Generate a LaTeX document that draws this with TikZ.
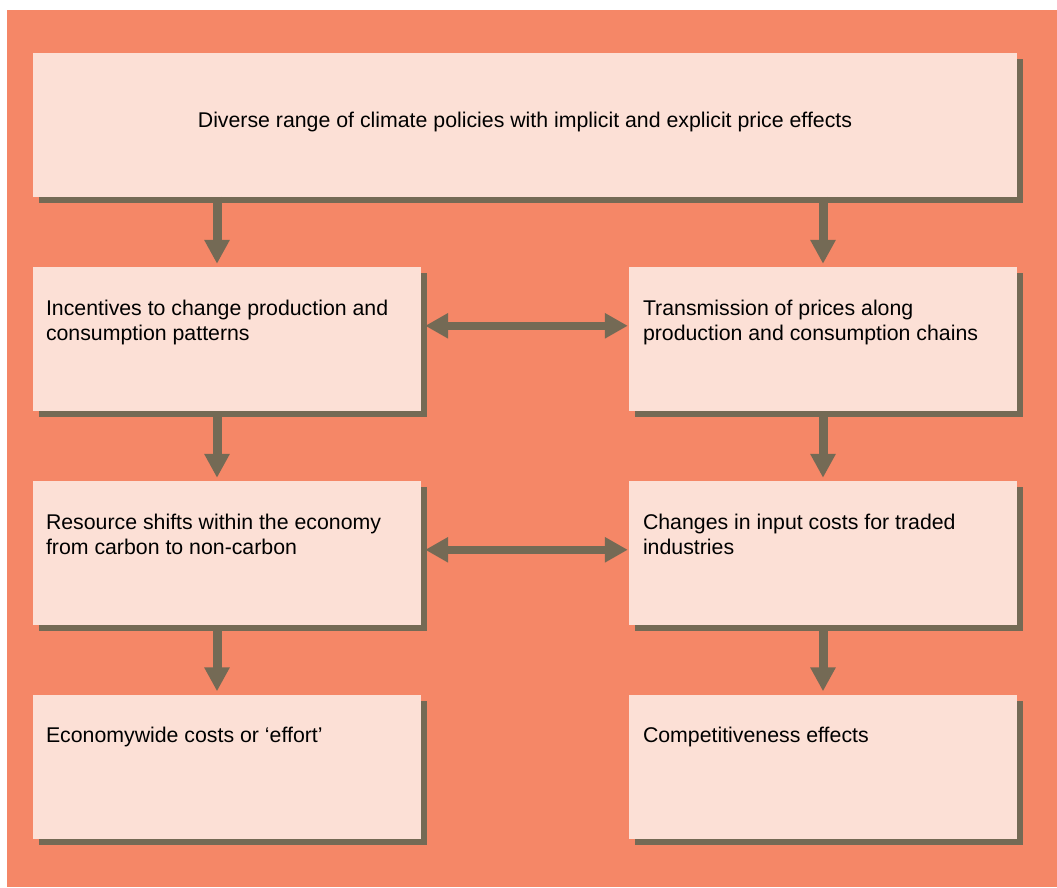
\documentclass[tikz,border=0pt]{standalone}
\usepackage{fontspec}
\setmainfont{Liberation Sans}
\usetikzlibrary{arrows.meta,shadows,calc}
\definecolor{bgcol}{HTML}{F58767}
\definecolor{boxfill}{HTML}{FCE0D6}
\definecolor{shadecol}{HTML}{746A55}
\begin{document}
\begin{tikzpicture}[x=1pt,y=-1pt,
  box/.style={fill=boxfill, draw=none, inner sep=0pt, minimum width=388pt, minimum height=144pt,
    drop shadow={shadow xshift=6pt, shadow yshift=-6pt, fill=shadecol, opacity=1}},
  txt/.style={inner sep=0pt, align=left, anchor=north west, font=\fontsize{21.3}{25}\selectfont},
  arr/.style={draw=shadecol, line width=9pt, -{Triangle[width=24pt,length=24pt]}},
  darr/.style={draw=shadecol, line width=8.5pt, {Triangle[width=24pt,length=23pt]}-{Triangle[width=24pt,length=23pt]}}]
\useasboundingbox (0,0) rectangle (1057,887);
\fill[bgcol] (7,10) rectangle (1057,887);
% boxes
\node[box, minimum width=984pt] (top) at (525,125) {};
\node[box] (l1) at (227,339) {};
\node[box] (r1) at (823,339) {};
\node[box] (l2) at (227,553) {};
\node[box] (r2) at (823,553) {};
\node[box] (l3) at (227,766.5) {};
\node[box] (r3) at (823,766.5) {};
% texts
\node[inner sep=0pt, font=\fontsize{21.3}{25}\selectfont] (ttop) at (525,122) {Diverse range of climate policies with implicit and explicit price effects};
\node[txt] (tl1) at ($(l1.north west)+(13,33)$) {Incentives to change production and\\consumption patterns};
\node[txt] (tr1) at ($(r1.north west)+(14,33)$) {Transmission of prices along\\production and consumption chains};
\node[txt] (tl2) at ($(l2.north west)+(13,33)$) {Resource shifts within the economy\\from carbon to non-carbon};
\node[txt] (tr2) at ($(r2.north west)+(14,33)$) {Changes in input costs for traded\\industries};
\node[txt] (tl3) at ($(l3.north west)+(13,33)$) {Economywide costs or ‘effort’};
\node[txt] (tr3) at ($(r3.north west)+(14,33)$) {Competitiveness effects};
% coordinates for arrow ends
\coordinate (al0) at ($(l1.north)+(-10,-70)$);
\coordinate (al1) at ($(l1.north)+(-10,-3)$);
\coordinate (ar0) at ($(r1.north)+(0,-70)$);
\coordinate (ar1) at ($(r1.north)+(0,-3)$);
\draw[arr] (al0) -- (al1);
\draw[arr] (ar0) -- (ar1);
\draw[arr] ($(l1.south)+(-10,3)$) -- ($(l2.north)+(-10,-3)$);
\draw[arr] ($(r1.south)+(0,3)$) -- ($(r2.north)+(0,-3)$);
\draw[arr] ($(l2.south)+(-10,3)$) -- ($(l3.north)+(-10,-3)$);
\draw[arr] ($(r2.south)+(0,3)$) -- ($(r3.north)+(0,-3)$);
% double arrows
\draw[darr] ($(l1.north east)+(4,59)$) -- ($(r1.north west)+(-1,59)$);
\draw[darr] ($(l2.north east)+(4,69)$) -- ($(r2.north west)+(-1,69)$);
\end{tikzpicture}
\end{document}
